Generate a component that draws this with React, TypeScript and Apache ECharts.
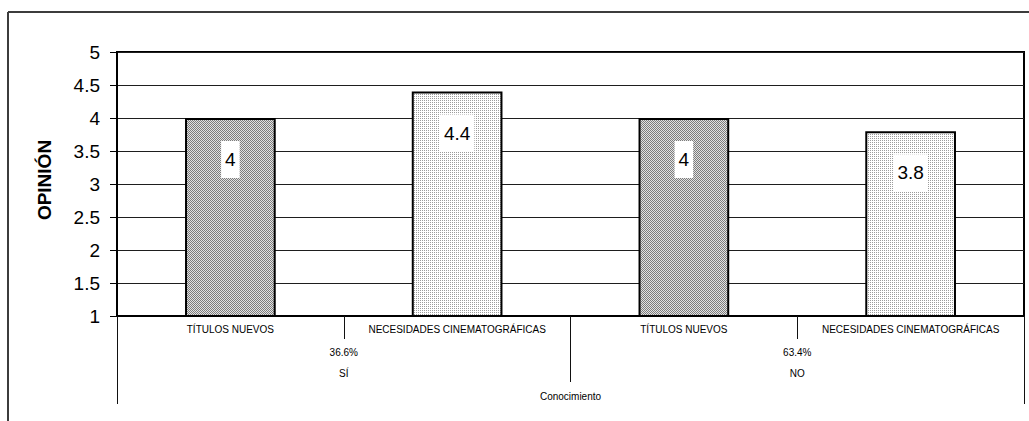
import React, { useEffect, useRef } from "react";
import * as echarts from "echarts";

// Bars: knowledge group × need type
const subCategories = [
  "TÍTULOS NUEVOS",
  "NECESIDADES CINEMATOGRÁFICAS",
  "TÍTULOS NUEVOS",
  "NECESIDADES CINEMATOGRÁFICAS",
];
const opinionValues = [4, 4.4, 4, 3.8];

// Second level of the category axis
const groups = ["SÍ", "NO"];
const groupShares = ["36.6%", "63.4%"];

// Outermost level
const topLevel = ["Conocimiento"];

const FONT = "'Liberation Sans', Arial, Helvetica, sans-serif";

function makePattern(cells: string[][]): HTMLCanvasElement {
  const c = document.createElement("canvas");
  c.width = cells[0].length;
  c.height = cells.length;
  const ctx = c.getContext("2d")!;
  cells.forEach((row, y) =>
    row.forEach((col, x) => {
      ctx.fillStyle = col;
      ctx.fillRect(x, y, 1, 1);
    })
  );
  return c;
}

export default function App() {
  const ref = useRef<HTMLDivElement>(null);

  useEffect(() => {
    if (!ref.current) return;
    const chart = echarts.init(ref.current, undefined, { renderer: "svg" });

    const darkFill = {
      image: makePattern([
        ["#7c7c7c", "#e2e2e2"],
        ["#e2e2e2", "#7c7c7c"],
      ]),
      repeat: "repeat",
    };
    const lightFill = {
      image: makePattern([
        ["#9c9c9c", "#ffffff"],
        ["#ffffff", "#ffffff"],
      ]),
      repeat: "repeat",
    };

    const tickStyle = { color: "#111", width: 1 };

    chart.setOption({
      animation: false,
      backgroundColor: "#fff",
      textStyle: { fontFamily: FONT },
      grid: {
        left: 117,
        right: 5,
        top: 52,
        bottom: 105,
        show: true,
        borderColor: "#000",
        borderWidth: 2,
        backgroundColor: "transparent",
        outerBoundsMode: "none",
        containLabel: false,
      },
      xAxis: [
        {
          type: "category",
          position: "bottom",
          data: subCategories,
          axisLine: { show: true, lineStyle: { color: "#000", width: 2 } },
          axisTick: { show: true, length: 23, lineStyle: tickStyle },
          axisLabel: {
            interval: 0,
            hideOverlap: false,
            margin: 8,
            fontSize: 10,
            color: "#000",
            fontFamily: FONT,
          },
          splitLine: { show: false },
        },
        {
          type: "category",
          position: "bottom",
          data: groups,
          axisLine: { show: false },
          axisTick: { show: true, length: 66, lineStyle: tickStyle },
          axisLabel: {
            interval: 0,
            margin: 26,
            verticalAlign: "top",
            color: "#000",
            fontFamily: FONT,
            formatter: (value: string, index: number) =>
              `{p|${groupShares[index]}}\n{g|${value}}`,
            rich: {
              p: { fontSize: 10, lineHeight: 21, color: "#000", fontFamily: FONT },
              g: { fontSize: 10, lineHeight: 21, color: "#000", fontFamily: FONT },
            },
          },
          splitLine: { show: false },
        },
        {
          type: "category",
          position: "bottom",
          data: topLevel,
          axisLine: { show: false },
          axisTick: { show: true, length: 88, lineStyle: tickStyle },
          axisLabel: {
            interval: 0,
            margin: 75,
            fontSize: 10,
            color: "#000",
            fontFamily: FONT,
          },
          splitLine: { show: false },
        },
      ],
      yAxis: {
        type: "value",
        min: 1,
        max: 5,
        interval: 0.5,
        name: "OPINIÓN",
        nameLocation: "middle",
        nameRotate: 90,
        nameGap: 63,
        nameTextStyle: {
          fontSize: 19,
          fontWeight: "bold",
          color: "#000",
          fontFamily: FONT,
          padding: [0, 0, 0, 8],
        },
        axisLine: { show: true, lineStyle: { color: "#000", width: 2 } },
        axisTick: { show: true, length: 7, lineStyle: { color: "#000", width: 1 } },
        axisLabel: {
          margin: 17,
          fontSize: 19,
          color: "#000",
          fontFamily: FONT,
        },
        splitLine: { show: true, lineStyle: { color: "#1e1e1e", width: 1 } },
      },
      graphic: [
        {
          type: "line",
          shape: { x1: 8, y1: 12, x2: 1029, y2: 12 },
          style: { stroke: "#3c3c3c", lineWidth: 2 },
          silent: true,
        },
        {
          type: "line",
          shape: { x1: 8, y1: 12, x2: 8, y2: 421 },
          style: { stroke: "#3c3c3c", lineWidth: 2 },
          silent: true,
        },
      ],
      series: [
        {
          type: "bar",
          xAxisIndex: 0,
          barWidth: "40%",
          data: opinionValues.map((v, i) => ({
            value: v,
            itemStyle: {
              color: i % 2 === 0 ? darkFill : lightFill,
              borderColor: "#000",
              borderWidth: 2,
            },
          })),
          label: {
            show: true,
            position: "insideTop",
            distance: 23,
            backgroundColor: "#fff",
            padding: [8, 4],
            fontSize: 19,
            lineHeight: 21,
            color: "#000",
            fontFamily: FONT,
          },
        },
      ],
    });

    return () => chart.dispose();
  }, []);

  return (
    <div
      ref={ref}
      style={{ position: "fixed", left: 0, top: 0, width: 1029, height: 421 }}
    />
  );
}
